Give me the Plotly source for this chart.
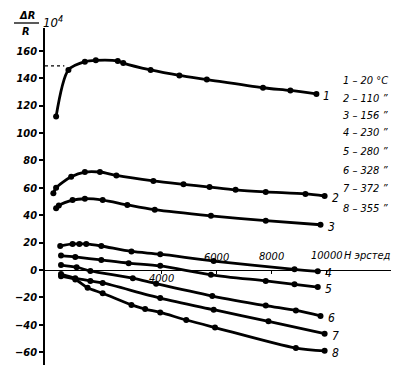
import plotly.graph_objects as go

# ---- data ----
field_1 = [150, 600, 1200, 1600, 2400, 2600, 3600, 4650, 5650, 7700, 8700, 9650]
dr_1 = [112, 146, 152, 153, 152.5, 151, 146, 142, 139, 133, 131, 128.5]

field_2 = [50, 150, 700, 1200, 1750, 2350, 3700, 4800, 5750, 6700, 7800, 9250, 9950]
dr_2 = [56, 60, 68, 71.5, 71.5, 69, 65, 62.5, 60.5, 58.5, 57, 55.5, 54]

field_3 = [150, 250, 750, 1200, 1850, 2750, 3750, 5800, 7800, 9800]
dr_3 = [45, 47, 51, 52, 51, 47.5, 44, 39.5, 36, 33]

field_4 = [300, 750, 1000, 1250, 1800, 2900, 3950, 5900, 8850, 9700]
dr_4 = [17.5, 19, 19, 19, 17.5, 13.5, 11.5, 6.5, 0.5, -1]

field_5 = [330, 850, 1800, 2800, 3950, 5800, 7800, 8850, 9700]
dr_5 = [10.5, 9.5, 7.3, 5, 3, -3.5, -8, -10.5, -12.5]

field_6 = [330, 900, 1400, 2950, 3800, 5850, 7800, 8900, 9800]
dr_6 = [3.6, 2, -0.7, -6, -10, -19, -26, -29.5, -33.5]

field_7 = [330, 850, 1400, 1850, 3950, 5900, 7900, 9950]
dr_7 = [-3, -6, -8, -9.5, -20.5, -29, -37.5, -46.5]

field_8 = [330, 850, 1300, 1850, 2900, 3400, 3950, 4900, 5950, 8900, 9950]
dr_8 = [-4.5, -7, -13, -17, -25.5, -28.5, -31, -36.5, -42, -57, -59]

curve_names = ["1", "2", "3", "4", "5", "6", "7", "8"]
legend_lines = ["1 – 20 °C", "2 – 110 ”", "3 – 156 ”", "4 – 230 ”",
                "5 – 280 ”", "6 – 328 ”", "7 – 372 ”", "8 – 355 ”"]

ref_level = 149
ref_field = [-255, 450]

y_ticks = [-60, -40, -20, 0, 20, 40, 60, 80, 100, 120, 140, 160]
x_ticks = [4000, 6000, 8000, 10000]
x_tick_text = ["4000", "6000", "8000", "10000"]
x_unit = "H эрстед"

series = [(field_1, dr_1), (field_2, dr_2), (field_3, dr_3), (field_4, dr_4),
          (field_5, dr_5), (field_6, dr_6), (field_7, dr_7), (field_8, dr_8)]

FONT = "Liberation Sans Narrow, DejaVu Sans Condensed, DejaVu Sans, sans-serif"

W, H = 399, 365
L, T, B, R = 37, 20, 3, 0
PW, PH = W - L - R, H - T - B


def fx(px):
    return (px - L) / PW


def fy(py):
    return (H - B - py) / PH


fig = go.Figure()

fig.add_trace(go.Scatter(x=ref_field, y=[ref_level, ref_level], mode="lines",
                         line=dict(color="black", width=1.3, dash="dot"),
                         showlegend=False, hoverinfo="skip"))

for xs, ys in series:
    fig.add_trace(go.Scatter(
        x=xs, y=ys, mode="lines+markers",
        line=dict(color="black", width=2.8, shape="spline", smoothing=0.8),
        marker=dict(color="black", size=6),
        showlegend=False))

annotations = []
for name, (xs, ys) in zip(curve_names, series):
    annotations.append(dict(x=xs[-1], y=ys[-1], xref="x", yref="y", text=name,
                            showarrow=False, xanchor="left", xshift=5, yshift=-2,
                            font=dict(family=FONT, size=12, color="black", style="italic")))

legend_y = [72, 90, 107, 125, 143, 162, 181, 200]
for txt, py in zip(legend_lines, legend_y):
    annotations.append(dict(x=fx(333), y=fy(py), xref="paper", yref="paper", text=txt,
                            showarrow=False, xanchor="left", yanchor="middle",
                            font=dict(family=FONT, size=11, color="black", style="italic")))

# x tick labels (placed around the axis line as in the original)
x_label_shift = [-9, 12, 13, 14]
for v, t, s in zip(x_ticks, x_tick_text, x_label_shift):
    annotations.append(dict(x=v, y=0, xref="x", yref="y", text=t, showarrow=False,
                            xanchor="center", yanchor="middle", yshift=s,
                            font=dict(family=FONT, size=11, color="black", style="italic")))
annotations.append(dict(x=10000, y=0, xref="x", yref="y", text=x_unit, showarrow=False,
                        xanchor="left", yanchor="middle", yshift=14, xshift=16,
                        font=dict(family=FONT, size=11, color="black", style="italic")))

# y title  ΔR / R  10^4
annotations.append(dict(x=fx(19), y=fy(8), xref="paper", yref="paper", text="<b>ΔR</b>",
                        showarrow=False, xanchor="center", yanchor="middle",
                        font=dict(family=FONT, size=11, color="black", style="italic")))
annotations.append(dict(x=fx(18), y=fy(23), xref="paper", yref="paper", text="<b>R</b>",
                        showarrow=False, xanchor="center", yanchor="middle",
                        font=dict(family=FONT, size=11, color="black", style="italic")))
annotations.append(dict(x=fx(33), y=fy(14), xref="paper", yref="paper", text="10<sup>4</sup>",
                        showarrow=False, xanchor="left", yanchor="middle",
                        font=dict(family=FONT, size=13, color="black", style="italic")))

shapes = [dict(type="line", xref="paper", yref="paper", x0=fx(6), x1=fx(31),
               y0=fy(15), y1=fy(15), line=dict(color="black", width=1.3))]

zero_pos = (0 - (-73)) / (176.6 - (-73))

fig.update_layout(
    width=W, height=H,
    margin=dict(l=L, r=R, t=T, b=B),
    paper_bgcolor="white", plot_bgcolor="white",
    annotations=annotations, shapes=shapes,
    font=dict(family=FONT, color="black"),
    xaxis=dict(range=[-255, 12956], showgrid=False, zeroline=False,
               showline=True, linecolor="black", linewidth=1.3,
               anchor="free", position=zero_pos,
               tickmode="array", tickvals=x_ticks, ticks="outside", ticklen=3,
               tickcolor="black", showticklabels=False),
    yaxis=dict(range=[-73, 176.6], showgrid=False, zeroline=False,
               showline=True, linecolor="black", linewidth=1.5,
               tickmode="array", tickvals=y_ticks, ticks="outside", ticklen=4,
               tickwidth=1.5, tickcolor="black",
               tickfont=dict(family=FONT, size=11, color="black", style="italic",
                             weight="bold")),
)

fig.write_html("out.html")
